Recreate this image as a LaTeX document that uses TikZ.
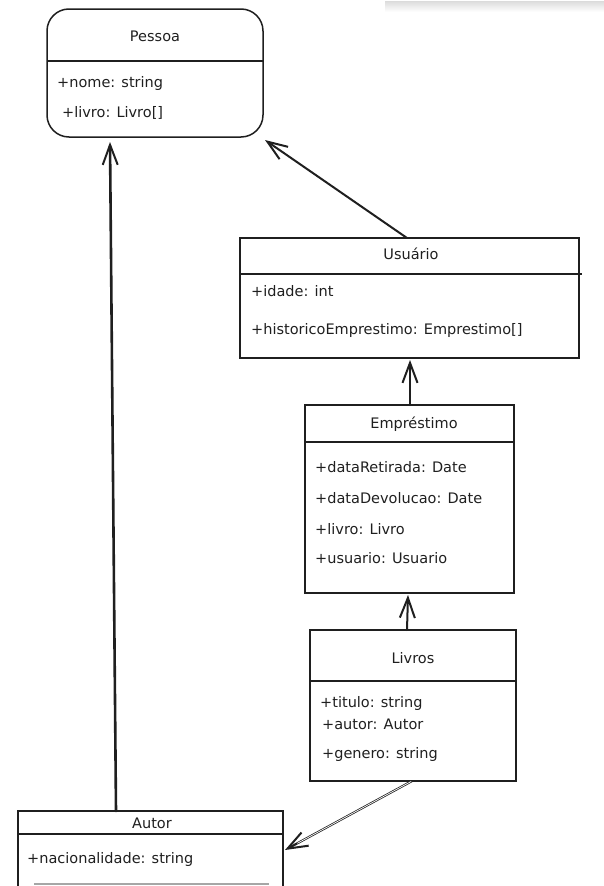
\documentclass[tikz,border=0pt]{standalone}
\usepackage{fontspec}
\setmainfont{DejaVu Sans}
\usetikzlibrary{arrows.meta,calc}

\begin{document}
\begin{tikzpicture}[x=1pt,y=-1pt,
  box/.style={draw=black!88, line width=1.5pt, inner sep=0pt, outer sep=0pt, anchor=north west},
  rule/.style={draw=black!88, line width=1.5pt},
  title/.style={font=\fontsize{14.5}{16}\selectfont, text=black!88, anchor=base, inner sep=0pt},
  attr/.style={font=\fontsize{14.5}{16}\selectfont, text=black!88, anchor=base west, inner sep=0pt},
  assoc/.style={draw=black!88, line width=2pt, line cap=round, line join=round,
    -{Straight Barb[length=20pt,width=15pt,line width=2pt]}},
]
\useasboundingbox (0,0) rectangle (604,886);

% faint strip along the upper edge
\shade[top color=black!14, bottom color=white] (385,1) rectangle (604,12);

% Pessoa
\node[box, rounded corners=22pt, minimum width=216pt, minimum height=128pt] (pessoa) at (47,9) {};
\draw[rule] ([yshift=-52pt]pessoa.north west) -- ([yshift=-52pt]pessoa.north east);
\node[title] (pessoaT) at (155,41) {Pessoa};
\node[attr] (pessoaA1) at (57,87) {+nome: string};
\node[attr] (pessoaA2) at (62,117) {+livro: Livro[]};

% Usuario
\node[box, minimum width=339pt, minimum height=120pt] (usuario) at (240,238) {};
\draw[rule] ([yshift=-36pt]usuario.north west) -- ([xshift=3pt,yshift=-36pt]usuario.north east);
\node[title] (usuarioT) at (411,259) {Usuário};
\node[attr] (usuarioA1) at (251,296) {+idade: int};
\node[attr] (usuarioA2) at (251,334) {+historicoEmprestimo: Emprestimo[]};

% Emprestimo
\node[box, minimum width=209pt, minimum height=188pt] (emprestimo) at (305,405) {};
\draw[rule] ([yshift=-37pt]emprestimo.north west) -- ([yshift=-37pt]emprestimo.north east);
\node[title] (emprestimoT) at (414,428) {Empréstimo};
\node[attr] (emprestimoA1) at (315,472) {+dataRetirada: Date};
\node[attr] (emprestimoA2) at (315,503) {+dataDevolucao: Date};
\node[attr] (emprestimoA3) at (315,534) {+livro: Livro};
\node[attr] (emprestimoA4) at (315,563) {+usuario: Usuario};

% Livros
\node[box, minimum width=206pt, minimum height=151pt] (livros) at (310,630) {};
\draw[rule] ([yshift=-51pt]livros.north west) -- ([yshift=-51pt]livros.north east);
\node[title] (livrosT) at (413,663) {Livros};
\node[attr] (livrosA1) at (320,707) {+titulo: string};
\node[attr] (livrosA2) at (322,729) {+autor: Autor};
\node[attr] (livrosA3) at (322,758) {+genero: string};

% Autor
\node[inner sep=0pt, outer sep=0pt, anchor=north west, minimum width=265pt, minimum height=73pt] (autor) at (18,811) {};
\draw[rule] ([yshift=-2pt]autor.south west) -- (autor.north west) -- (autor.north east) -- ([yshift=-2pt]autor.south east);
\draw[black!35, line width=1.5pt] ([xshift=16pt]autor.south west) -- ([xshift=-14pt]autor.south east);
\draw[rule] ([yshift=-23pt]autor.north west) -- ([yshift=-23pt]autor.north east);
\node[title] (autorT) at (152,828) {Autor};
\node[attr] (autorA1) at (27,863) {+nacionalidade: string};

% associations
\draw[assoc, line width=2.6pt] ([xshift=-34.5pt]autor.north) -- ([xshift=-45pt,yshift=-5pt]pessoa.south);
\draw[assoc] ([xshift=-2.5pt]usuario.north) -- ([xshift=2pt,yshift=-3pt]pessoa.south east);
\draw[assoc] ([xshift=0.5pt]emprestimo.north) -- ([xshift=0.5pt,yshift=-2pt]usuario.south);
\draw[assoc] ([xshift=-6pt]livros.north) -- ([xshift=-1.5pt,yshift=-2pt]emprestimo.south);
\draw[assoc, line width=2.2pt] ([xshift=-1pt]livros.south) -- ([xshift=2pt,yshift=-2.5pt]autor.east);
\draw[white, line width=0.7pt, shorten >=14pt, shorten <=1pt] ([xshift=-1pt]livros.south) -- ([xshift=2pt,yshift=-2.5pt]autor.east);
\end{tikzpicture}
\end{document}
